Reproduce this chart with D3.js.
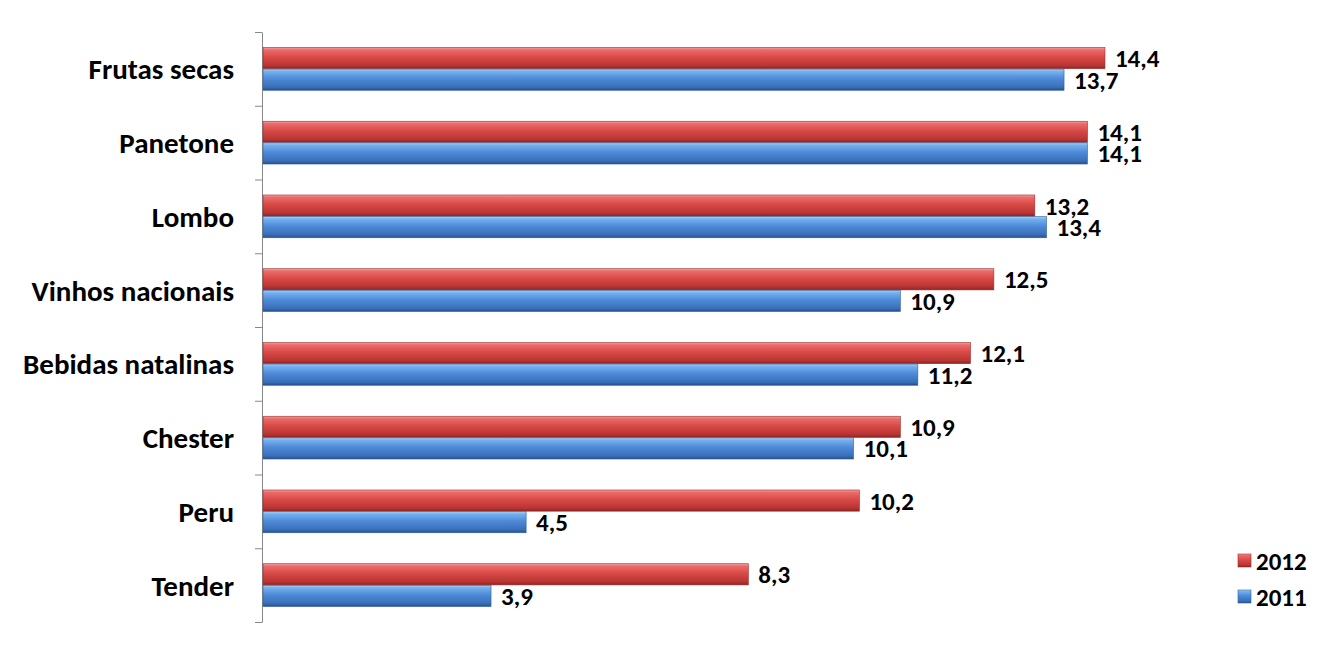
<!DOCTYPE html>
<html><head><meta charset="utf-8">
<script src="https://cdn.jsdelivr.net/npm/d3@7"></script>
<style>body{margin:0;background:#fff}svg{display:block}text{font-family:Carlito,"Liberation Sans",Arial,sans-serif;font-weight:bold;fill:#000}</style>
</head><body><svg id="c" width="1333" height="656"></svg>
<script>
const categories = ["Frutas secas","Panetone","Lombo","Vinhos nacionais","Bebidas natalinas","Chester","Peru","Tender"];
const values2012 = [14.4,14.1,13.2,12.5,12.1,10.9,10.2,8.3];
const values2011 = [13.7,14.1,13.4,10.9,11.2,10.1,4.5,3.9];
const seriesNames = ["2012","2011"];

const svg = d3.select("#c");
const defs = svg.append("defs");
function grad(id, stops){
  const g = defs.append("linearGradient").attr("id",id).attr("x1",0).attr("y1",0).attr("x2",0).attr("y2",1);
  stops.forEach(s=>g.append("stop").attr("offset",s[0]).attr("stop-color",s[1]));
}
grad("gRed",[[0,"#f4a0a0"],[0.12,"#ea6b6a"],[0.45,"#d94a47"],[0.85,"#b83533"],[1,"#8e2422"]]);
grad("gBlue",[[0,"#a6d0f8"],[0.12,"#74b0ee"],[0.45,"#4d8ad8"],[0.85,"#3a6fb8"],[1,"#274f88"]]);
const fills = {"2012":"url(#gRed)","2011":"url(#gBlue)"};
const edge = {"2012":"#9a2b29","2011":"#2f5e9c"};

const x = d3.scaleLinear().domain([0,16]).range([263, 263+16*58.47]);
const y = d3.scaleBand().domain(categories).range([32,622]).paddingInner(0.42).paddingOuter(0.21);
const yb = d3.scaleBand().domain(categories).range([32,622]);
const ys = d3.scaleBand().domain(seriesNames).range([0,y.bandwidth()]).paddingInner(0.02);

// axis
const ax = svg.append("g").attr("transform","translate(262,0)")
  .call(d3.axisLeft(yb).tickSize(0).tickFormat(""));
ax.select(".domain").attr("stroke","#888").attr("stroke-width",1);
const bounds = categories.map(c=>yb(c)).concat([622]);
svg.selectAll("line.tk").data(bounds).join("line").attr("class","tk")
  .attr("x1",255).attr("x2",262).attr("y1",d=>d+0.5).attr("y2",d=>d+0.5)
  .attr("stroke","#888");

// category labels
svg.selectAll("text.cat").data(categories).join("text").attr("class","cat")
  .attr("x",234).attr("y",c=>yb(c)+yb.bandwidth()/2).attr("dy","0.36em")
  .attr("text-anchor","end").attr("font-size",29).text(c=>c);

const data = categories.map((c,i)=>({c, vals:[{s:"2012",v:values2012[i]},{s:"2011",v:values2011[i]}]}));
const g = svg.selectAll("g.cat").data(data).join("g").attr("transform",d=>`translate(0,${y(d.c)})`);
g.selectAll("rect").data(d=>d.vals).join("rect")
  .attr("x",x(0)).attr("y",d=>ys(d.s)).attr("width",d=>x(d.v)-x(0)).attr("height",ys.bandwidth())
  .attr("fill",d=>fills[d.s]).attr("stroke",d=>edge[d.s]).attr("stroke-width",0.6);
g.selectAll("text.val").data(d=>d.vals).join("text").attr("class","val")
  .attr("x",d=>x(d.v)+10).attr("y",d=>ys(d.s)+ys.bandwidth()/2).attr("dy","0.36em")
  .attr("font-size",25).text(d=>d3.format(".1f")(d.v).replace(".",","));

// legend
const lg = svg.selectAll("g.lg").data(seriesNames).join("g").attr("class","lg")
  .attr("transform",(d,i)=>`translate(1238,${554+i*36})`);
lg.append("rect").attr("width",13).attr("height",13).attr("fill",d=>fills[d]).attr("stroke",d=>edge[d]).attr("stroke-width",0.6);
lg.append("text").attr("x",18).attr("y",6.5).attr("dy","0.36em").attr("font-size",25).text(d=>d);
</script></body></html>
